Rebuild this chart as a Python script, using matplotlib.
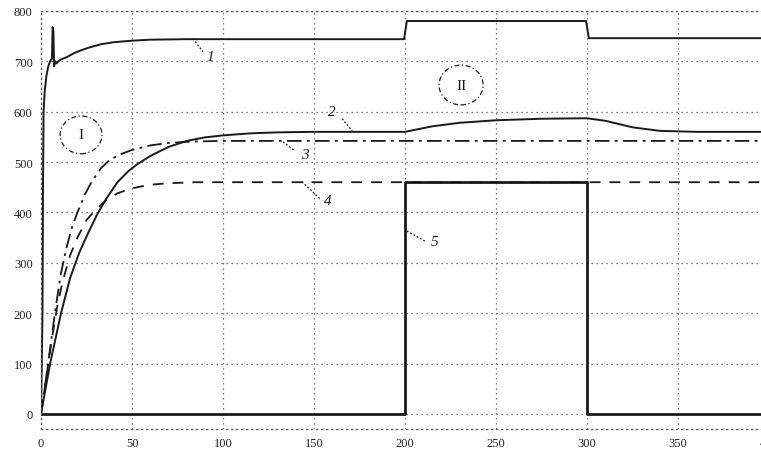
import matplotlib
matplotlib.use("Agg")
import matplotlib.pyplot as plt
from matplotlib.patches import Ellipse

# ---- data ----
t1 = [0, 0.8, 1.1, 1.4, 2, 3, 4, 5, 6, 6.4, 6.8, 7.2, 7.8, 8.5, 9.5, 11, 14, 18, 22, 27,
      33, 40, 50, 60, 80, 120, 199.5, 201, 299.5, 301, 400]
y1 = [0, 200, 450, 600, 640, 672, 690, 700, 706, 768, 760, 690, 700, 696, 700, 704, 708, 716,
      722, 728, 734, 738, 741, 743, 744, 744, 744, 780, 780, 746, 746]

t2 = [0, 5, 11, 16, 21, 26, 31, 36, 42, 48, 53, 60, 70, 80, 90, 100, 115, 130, 150, 200,
      215, 230, 250, 275, 300, 310, 325, 340, 360, 400]
y2 = [0, 100, 200, 270, 320, 360, 397, 428, 460, 482, 496, 512, 530, 542, 549, 553, 557, 559,
      560, 560, 571, 578, 583, 586, 587, 582, 569, 562, 560, 560]

t3 = [0, 2, 5, 8, 11, 14, 17, 20, 24, 28, 33, 38, 44, 50, 60, 70, 85, 100, 400]
y3 = [0, 50, 130, 210, 280, 330, 370, 400, 435, 462, 488, 505, 516, 524, 533, 538, 541, 542, 542]

t4 = [0, 3, 6, 9, 12, 16, 20, 25, 30, 36, 42, 50, 60, 70, 85, 400]
y4 = [0, 75, 150, 215, 265, 315, 350, 385, 405, 425, 438, 448, 455, 458, 460, 460]

t5 = [0, 200, 200, 300, 300, 400]
y5 = [0, 0, 460, 460, 0, 0]

xticks = [0, 50, 100, 150, 200, 250, 300, 350, 400]
yticks = [0, 100, 200, 300, 400, 500, 600, 700, 800]

curve_labels = ["1", "2", "3", "4", "5"]
label_pos = [(93, 709), (160, 600), (145, 516), (157.7, 423), (216, 342)]
leader_from = [(83.5, 745), (165.4, 586), (133, 540), (143.4, 461), (201, 363)]
leader_to = [(89, 719), (171, 562), (139.6, 522), (153.3, 427), (211, 343)]

regions = ["I", "II"]
region_centers = [(22, 554), (230.8, 653)]
region_sizes = [(23, 75), (24.2, 79)]

# ---- figure ----
fig = plt.figure(figsize=(7.61, 4.52), dpi=100)
ax = fig.add_axes([0.0539, 0.0487, 0.9566, 0.9248])
ax.set_xlim(0, 400)
ax.set_ylim(-30, 800)

ink = "#1a1a1a"
ax.plot(t1, y1, color=ink, lw=1.4)
ax.plot(t2, y2, color=ink, lw=1.4)
ax.plot(t3, y3, color=ink, lw=1.3, linestyle=(0, (8, 3, 1.5, 3)))
ax.plot(t4, y4, color=ink, lw=1.3, linestyle=(0, (6, 5)))
ax.plot(t5, y5, color=ink, lw=2.0)

ax.set_xticks(xticks)
ax.set_yticks(yticks)
ax.grid(True, color="#555555", linestyle=(0, (1, 3)), linewidth=0.9)
ax.tick_params(length=0, labelsize=9, pad=6)
for lab in ax.get_xticklabels() + ax.get_yticklabels():
    lab.set_family("Liberation Serif")
    lab.set_color("#222222")
for s in ax.spines.values():
    s.set_linestyle((0, (1, 3)))
    s.set_color("#555555")
    s.set_linewidth(0.9)

for lab, p, a, b in zip(curve_labels, label_pos, leader_from, leader_to):
    ax.plot([a[0], b[0]], [a[1], b[1]], color=ink, lw=0.9, linestyle=(0, (1.5, 1.5)))
    ax.text(p[0], p[1], lab, fontsize=11, family="Liberation Serif", style="italic",
            ha="center", va="center", color=ink)

for r, c, sz in zip(regions, region_centers, region_sizes):
    ax.add_patch(Ellipse(c, sz[0], sz[1], fill=False, edgecolor=ink, lw=0.9,
                         linestyle=(0, (4, 2, 1, 2))))
    ax.text(c[0], c[1], r, fontsize=11, family="Liberation Serif", ha="center",
            va="center", color=ink)

fig.savefig("out.png", dpi=100)
